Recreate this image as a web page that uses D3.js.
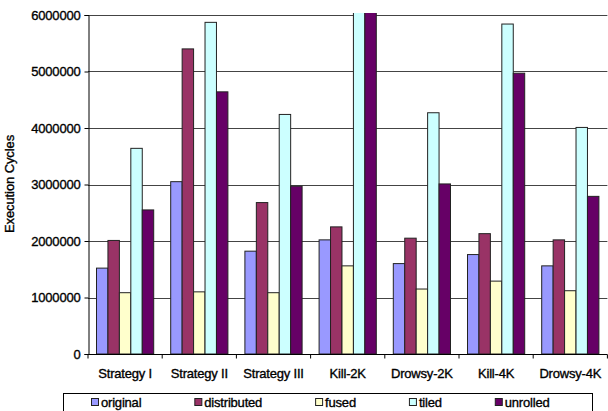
<!DOCTYPE html>
<html>
<head>
<meta charset="utf-8">
<script src="https://cdn.jsdelivr.net/npm/d3@7"></script>
<style>
  html, body { margin: 0; padding: 0; background: #fff; }
  svg { display: block; }
  text { font-family: "Liberation Sans", Arial, sans-serif; fill: #000; stroke: #000; stroke-width: 0.35px; }
</style>
</head>
<body>
<svg id="chart" width="608" height="411"></svg>
<script>
// Benchmarks and loop-transformation variants
const categories = ["Strategy I", "Strategy II", "Strategy III", "Kill-2K", "Drowsy-2K", "Kill-4K", "Drowsy-4K"];
const seriesNames = ["original", "distributed", "fused", "tiled", "unrolled"];
const seriesColors = ["#9999FF", "#993366", "#FFFFCC", "#CCFFFF", "#660066"];

// Execution cycles per benchmark, one array per variant
const original    = [1520000, 3050000, 1820000, 2020000, 1600000, 1760000, 1560000];
const distributed = [2010000, 5400000, 2680000, 2250000, 2050000, 2130000, 2020000];
const fused       = [1085000, 1100000, 1085000, 1560000, 1150000, 1290000, 1120000];
const tiled       = [3640000, 5870000, 4240000, 6400000, 4270000, 5840000, 4010000];
const unrolled    = [2550000, 4640000, 2970000, 6200000, 3010000, 4970000, 2790000];

const yTicks = [0, 1000000, 2000000, 3000000, 4000000, 5000000, 6000000];
const yTitle = "Execution Cycles";

const values = [original, distributed, fused, tiled, unrolled];

const svg = d3.select("#chart");
const plot = { left: 88, right: 607.4, top: 15, bottom: 354 };

const x0 = d3.scaleBand().domain(categories).range([plot.left, plot.right]).paddingInner(0).paddingOuter(0);
const groupPad = 8.5;
const x1 = d3.scaleBand().domain(seriesNames).range([groupPad, x0.bandwidth() - groupPad]).padding(0);
const y = d3.scaleLinear().domain([0, 6000000]).range([plot.bottom, plot.top]);

// Horizontal gridlines
svg.append("g")
  .selectAll("line")
  .data(yTicks.slice(1))
  .join("line")
  .attr("x1", plot.left).attr("x2", plot.right)
  .attr("y1", d => Math.round(y(d)) + 0.5).attr("y2", d => Math.round(y(d)) + 0.5)
  .attr("stroke", "#444").attr("stroke-width", 1);

// Bars are clipped to the plot area
svg.append("clipPath").attr("id", "plotClip")
  .append("rect")
  .attr("x", plot.left).attr("y", plot.top - 2)
  .attr("width", plot.right - plot.left).attr("height", plot.bottom - plot.top + 2);

const rows = categories.map((c, i) => ({ cat: c, bars: seriesNames.map((s, j) => ({ s, j, v: values[j][i] })) }));

svg.append("g").attr("clip-path", "url(#plotClip)")
  .selectAll("g")
  .data(rows)
  .join("g")
  .attr("transform", d => `translate(${x0(d.cat)},0)`)
  .selectAll("rect")
  .data(d => d.bars)
  .join("rect")
  .attr("x", d => x1(d.s))
  .attr("y", d => y(d.v))
  .attr("width", x1.bandwidth())
  .attr("height", d => y(0) - y(d.v))
  .attr("fill", d => seriesColors[d.j])
  .attr("stroke", "#222")
  .attr("stroke-width", 1);

// Y axis
const yAxis = d3.axisLeft(y).tickValues(yTicks).tickFormat(d3.format("d")).tickSize(4).tickPadding(4);
const gy = svg.append("g").attr("transform", `translate(${plot.left + 0.5},0)`).call(yAxis);
gy.select(".domain").attr("stroke", "#000");
gy.selectAll(".tick line").attr("stroke", "#000");
gy.selectAll("text").attr("font-size", 13).attr("font-family", "Liberation Sans, Arial, sans-serif")
  .attr("letter-spacing", -0.2);

// X axis: ticks at category boundaries
const gx = svg.append("g").attr("transform", `translate(0,${plot.bottom + 0.5})`);
gx.append("line").attr("x1", plot.left).attr("x2", plot.right).attr("stroke", "#000");
gx.selectAll("line.tk")
  .data(categories.concat([null]))
  .join("line").attr("class", "tk")
  .attr("x1", (d, i) => i < categories.length ? x0(d) : plot.right)
  .attr("x2", (d, i) => i < categories.length ? x0(d) : plot.right)
  .attr("y1", 0).attr("y2", 4)
  .attr("stroke", "#000");
gx.selectAll("text")
  .data(categories)
  .join("text")
  .attr("x", d => x0(d) + x0.bandwidth() / 2)
  .attr("y", 23)
  .attr("text-anchor", "middle")
  .attr("font-size", 13)
  .attr("letter-spacing", -0.2)
  .text(d => d);

// Y axis title
svg.append("text")
  .attr("transform", `translate(14,184) rotate(-90)`)
  .attr("text-anchor", "middle")
  .attr("font-size", 13)
  .attr("letter-spacing", -0.1)
  .text(yTitle);

// Legend
const legend = svg.append("g");
legend.append("rect")
  .attr("x", 63.5).attr("y", 393.5)
  .attr("width", 529).attr("height", 30)
  .attr("fill", "#fff").attr("stroke", "#000");

let lx = 91;
seriesNames.forEach((name, j) => {
  const item = legend.append("g");
  item.append("rect")
    .attr("x", lx + 0.5).attr("y", 398.5)
    .attr("width", 7).attr("height", 7)
    .attr("fill", seriesColors[j]).attr("stroke", "#222");
  const t = item.append("text")
    .attr("x", lx + 10).attr("y", 407)
    .attr("font-size", 13)
    .attr("letter-spacing", -0.2)
    .text(name);
  lx += 10 + t.node().getComputedTextLength() + 53;
});
</script>
</body>
</html>
